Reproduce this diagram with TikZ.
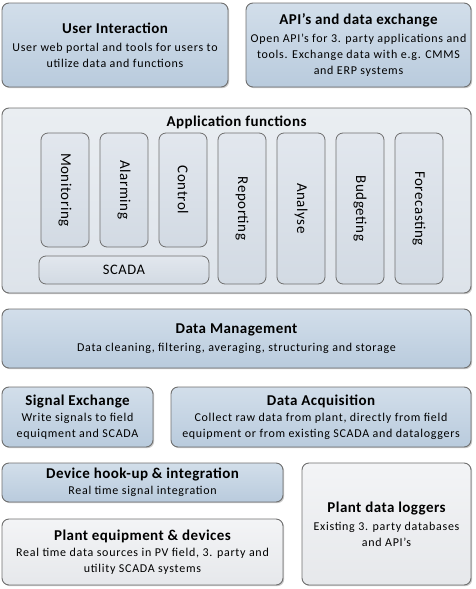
\documentclass[tikz,border=0pt]{standalone}
\usepackage{fontspec}
\setmainfont{Carlito}
\newfontfamily\bodyfam[LetterSpace=6]{Carlito}
\newfontfamily\vfam[LetterSpace=4]{Carlito}
\newfontfamily\titlefam[LetterSpace=3]{Carlito}
\usetikzlibrary{shadows}
\definecolor{blueT}{HTML}{D2DEEA}
\definecolor{blueB}{HTML}{B9CBDD}
\definecolor{greyT}{HTML}{F3F4F6}
\definecolor{greyB}{HTML}{E6E8EB}
\definecolor{appT}{HTML}{EAEEF2}
\definecolor{appB}{HTML}{DDE3EA}
\definecolor{inT}{HTML}{E2E7EE}
\definecolor{inB}{HTML}{D2DAE3}
\definecolor{edge}{HTML}{6F6F6F}
\newcommand\titlef{\fontsize{15}{17}\titlefam\bfseries\selectfont}
\newcommand\bodyf{\fontsize{12}{16}\bodyfam\selectfont}
\newcommand\mybox[7]{\node[#1, anchor=north west, minimum width={#5-#3}, minimum height={#6-#4}] (#2) at (#3,-#4) {#7};}
\tikzset{
  basebox/.style={draw=edge, line width=0.9pt, rounded corners=7pt, inner sep=0pt, outer sep=0pt,
    align=center, font=\bodyf, text=black,
    drop shadow={shadow xshift=1.2pt, shadow yshift=-1.2pt, opacity=0.35, fill=black!60}},
  bluebox/.style={basebox, top color=blueT, bottom color=blueB},
  greybox/.style={basebox, top color=greyT, bottom color=greyB},
  appbox/.style={basebox, top color=appT, bottom color=appB},
  innerbox/.style={draw=edge, line width=0.8pt, rounded corners=7pt, inner sep=0pt, outer sep=0pt,
    top color=inT, bottom color=inB, font=\fontsize{14.5}{16}\vfam\selectfont},
  vlabel/.style={rotate=-90, font=\fontsize{15}{16}\vfam\selectfont, inner sep=0pt}
}
\begin{document}
\begin{tikzpicture}[x=1pt,y=1pt]
\useasboundingbox (0,0) rectangle (476,-589);
\mybox{bluebox}{ui}{2}{3}{228}{87}{{\titlef User Interaction}\\[2pt]User web portal and tools for users to\\utilize data and functions}
\mybox{bluebox}{api}{246}{3}{471}{87}{{\titlef API’s and data exchange}\\[2pt]Open API’s for 3. party applications and\\tools. Exchange data with e.g. CMMS\\and ERP systems}
\mybox{appbox}{app}{2}{108}{471}{293}{}
\node[font=\titlef, anchor=north, inner sep=0pt] (apptitle) at ([yshift=-8pt]app.north) {Application functions};
\mybox{innerbox}{mon}{41}{133}{89}{247}{}
\mybox{innerbox}{alm}{100}{133}{148}{247}{}
\mybox{innerbox}{ctl}{159}{133}{207}{247}{}
\mybox{innerbox}{scada}{39}{256}{209}{284}{SCADA}
\mybox{innerbox}{rep}{218}{133}{266}{284}{}
\mybox{innerbox}{ana}{277}{133}{325}{284}{}
\mybox{innerbox}{bud}{336}{133}{384}{284}{}
\mybox{innerbox}{fc}{395}{133}{443}{284}{}
\node[vlabel] (monl) at (mon.center) {Monitoring};
\node[vlabel] (alml) at (alm.center) {Alarming};
\node[vlabel] (ctll) at (ctl.center) {Control};
\node[vlabel] (repl) at (rep.center) {Reporting};
\node[vlabel] (anal) at (ana.center) {Analyse};
\node[vlabel] (budl) at (bud.center) {Budgeting};
\node[vlabel] (fcl) at (fc.center) {Forecasting};
\mybox{bluebox}{dm}{2}{309}{471}{368}{{\titlef Data Management}\\[2pt]Data cleaning, filtering, averaging, structuring and storage}
\mybox{bluebox}{se}{2}{387}{153}{447}{{\titlef Signal Exchange}\\Write signals to field\\equiqment and SCADA}
\mybox{bluebox}{da}{171}{387}{471}{447}{{\titlef Data Acquisition}\\Collect raw data from plant, directly from field\\equipment or from existing SCADA and dataloggers}
\mybox{bluebox}{dh}{2}{463}{283}{502}{{\titlef Device hook-up \& integration}\\Real time signal integration}
\mybox{greybox}{pe}{2}{519}{283}{585}{{\titlef Plant equipment \& devices}\\Real time data sources in PV field, 3. party and\\utility SCADA systems}
\mybox{greybox}{pdl}{302}{463}{471}{585}{{\titlef Plant data loggers}\\[2pt]Existing 3. party databases\\and API’s}
\end{tikzpicture}
\end{document}
